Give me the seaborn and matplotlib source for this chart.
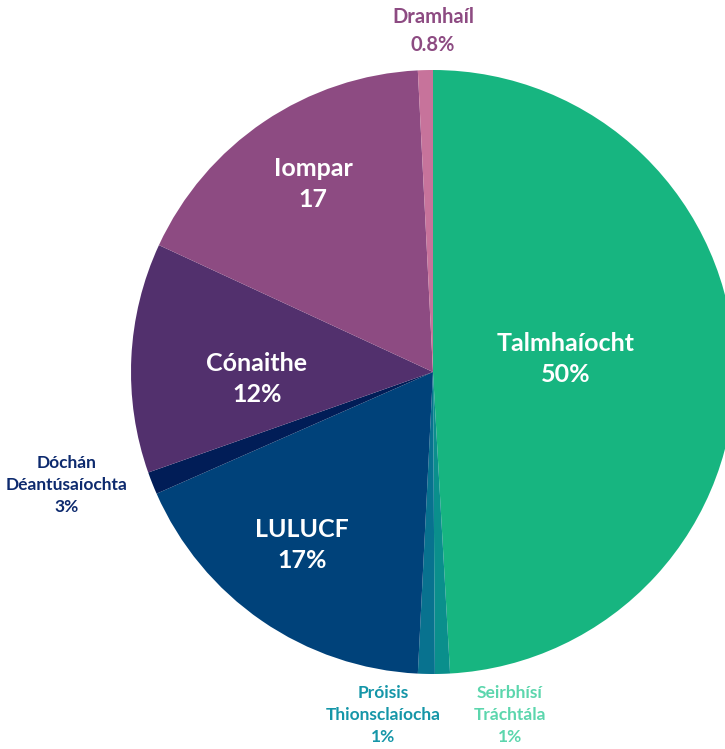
import numpy as np
import matplotlib
matplotlib.use("Agg")
import matplotlib.pyplot as plt
import seaborn as sns

# slice data, clockwise from the top
sectors = ["Talmhaíocht", "Seirbhísí Tráchtála", "Próisis Thionsclaíocha", "LULUCF",
           "Dóchán Déantúsaíochta", "Cónaithe", "Iompar", "Dramhaíl"]
shares = [49.1, 0.8, 0.9, 17.6, 1.2, 12.3, 17.3, 0.8]
labels = ["Talmhaíocht\n50%", "Seirbhísí\nTráchtála\n1%", "Próisis\nThionsclaíocha\n1%",
          "LULUCF\n17%", "Dóchán\nDéantúsaíochta\n3%", "Cónaithe\n12%", "Iompar\n17", "Dramhaíl\n0.8%"]
colors = ["#17b580", "#0a8f8c", "#08728f", "#00427a", "#011d57", "#52306d", "#8d4b82", "#c7739b"]

sns.set_style("white")
plt.rcParams['font.family'] = ['Lato', 'DejaVu Sans']

fig = plt.figure(figsize=(7.25, 7.49), dpi=100)
ax = fig.add_axes([0, 0, 1, 1])
ax.pie(shares, colors=colors, startangle=90, counterclock=False, radius=1.0,
       wedgeprops=dict(linewidth=0))

# inside labels (white)
inside = {"Talmhaíocht": (0.44, 0.043), "LULUCF": (-0.434, -0.573),
          "Cónaithe": (-0.583, -0.023), "Iompar": (-0.397, 0.623)}
for name, (x, y) in inside.items():
    i = sectors.index(name)
    ax.text(x, y, labels[i], ha="center", va="center", color="white",
            fontsize=18, fontweight="bold", linespacing=1.4)

# outside labels
outside = {"Dramhaíl": ((0.0, 1.129), "#8d4b82", 14.5),
           "Dóchán Déantúsaíochta": ((-1.212, -0.374), "#0d2a6e", 12.5),
           "Próisis Thionsclaíocha": ((-0.166, -1.136), "#1596a8", 12.5),
           "Seirbhísí Tráchtála": ((0.255, -1.136), "#5cd6ad", 12.5)}
for name, ((x, y), c, fs) in outside.items():
    i = sectors.index(name)
    ax.text(x, y, labels[i], ha="center", va="center", color=c,
            fontsize=fs, fontweight="bold", linespacing=1.45)

ax.set_xlim(-433 / 302, (725 - 433) / 302)
ax.set_ylim(-(749 - 372) / 302, 372 / 302)
ax.set_aspect("auto")
ax.axis("off")

plt.savefig("out.png", dpi=100)
